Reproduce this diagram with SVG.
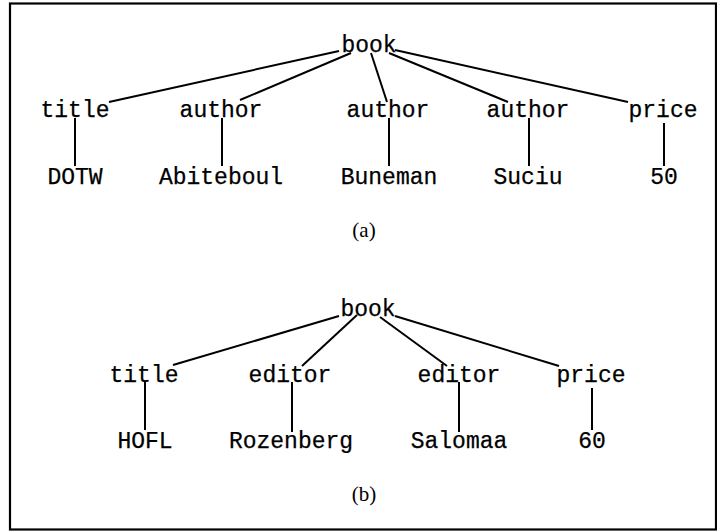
<svg xmlns="http://www.w3.org/2000/svg" width="717" height="531" viewBox="0 0 717 531">
<style>
.t{font-family:"Liberation Mono","DejaVu Sans Mono",monospace;font-size:23px;fill:#000;stroke:#000;stroke-width:0.25;text-anchor:middle}
.c{font-family:"Liberation Serif","DejaVu Serif",serif;font-size:21px;fill:#000;text-anchor:middle}
.e{stroke:#000;stroke-width:2;fill:none;stroke-linecap:butt}
</style>
<defs>
<clipPath id="clipR"><rect x="220" y="420" width="140" height="33"/></clipPath>
</defs>
<rect width="717" height="531" fill="#fff"/>
<rect x="10" y="3.5" width="706" height="526" fill="none" stroke="#000" stroke-width="2.2"/>
<g id="connectors">
<line class="e" x1="339" y1="51" x2="109" y2="102"/>
<line class="e" x1="351" y1="53" x2="240" y2="100"/>
<line class="e" x1="371" y1="53" x2="387" y2="102"/>
<line class="e" x1="389" y1="53" x2="508" y2="102"/>
<line class="e" x1="395" y1="50" x2="628" y2="102"/>
<line class="e" x1="75" y1="118" x2="75" y2="166"/>
<line class="e" x1="222" y1="118" x2="222" y2="166"/>
<line class="e" x1="389" y1="118" x2="389" y2="166"/>
<line class="e" x1="529" y1="118" x2="529" y2="166"/>
<line class="e" x1="664" y1="123" x2="664" y2="166"/>
<line class="e" x1="339" y1="316" x2="173" y2="365"/>
<line class="e" x1="357" y1="315" x2="302" y2="366"/>
<line class="e" x1="380" y1="317" x2="447" y2="366"/>
<line class="e" x1="395" y1="316" x2="559" y2="366"/>
<line class="e" x1="145" y1="382" x2="145" y2="430"/>
<line class="e" x1="292" y1="382" x2="292" y2="432"/>
<line class="e" x1="459" y1="382" x2="459" y2="432"/>
<line class="e" x1="592" y1="388" x2="592" y2="430"/>
</g>
<g id="a_book"><text class="t" x="369" y="52">book</text></g>
<g id="a_title"><text class="t" x="75" y="117">title</text></g>
<g id="a_author1"><text class="t" x="221" y="117">author</text></g>
<g id="a_author2"><text class="t" x="388" y="117">author</text></g>
<g id="a_author3"><text class="t" x="528" y="117">author</text></g>
<g id="a_price"><text class="t" x="663" y="117">price</text></g>
<g id="a_dotw"><text class="t" x="75" y="184">DOTW</text></g>
<g id="a_abiteboul"><text class="t" x="221" y="184">Abiteboul</text></g>
<g id="a_buneman"><text class="t" x="389" y="184">Buneman</text></g>
<g id="a_suciu"><text class="t" x="528" y="184">Suciu</text></g>
<g id="a_50"><text class="t" x="664" y="184">50</text></g>
<g id="label_a"><text class="c" x="364" y="237">(a)</text></g>
<g id="b_book"><text class="t" x="368" y="316">book</text></g>
<g id="b_title"><text class="t" x="144" y="382">title</text></g>
<g id="b_editor1"><text class="t" x="290" y="382">editor</text></g>
<g id="b_editor2"><text class="t" x="459" y="382">editor</text></g>
<g id="b_price"><text class="t" x="591" y="382">price</text></g>
<g id="b_hofl"><text class="t" x="145" y="448">HOFL</text></g>
<g id="b_rozenberg"><text class="t" x="291" y="448" clip-path="url(#clipR)">Rozenberg</text></g>
<g id="b_salomaa"><text class="t" x="459" y="448">Salomaa</text></g>
<g id="b_60"><text class="t" x="592" y="448">60</text></g>
<g id="label_b"><text class="c" x="364" y="501">(b)</text></g>
</svg>
